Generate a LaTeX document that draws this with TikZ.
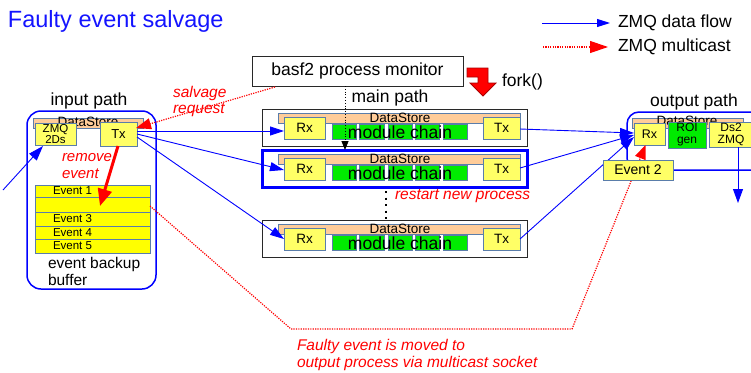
\documentclass[tikz,border=0pt]{standalone}
\usepackage{fontspec}
\setmainfont{Liberation Sans}
\usetikzlibrary{arrows.meta,calc}
\definecolor{ttlblue}{RGB}{20,20,255}
\definecolor{lyel}{RGB}{255,255,102}
\definecolor{eyel}{RGB}{255,255,0}
\definecolor{bord}{RGB}{90,125,170}
\definecolor{dsor}{RGB}{255,204,153}
\definecolor{grn}{RGB}{0,235,0}
\definecolor{frmgray}{RGB}{40,40,40}
\definecolor{dred}{RGB}{170,0,0}
\newcommand{\fsz}[1]{\fontsize{#1}{#1}\selectfont}
\newcommand{\fsl}[2]{\fontsize{#1}{#2}\selectfont}
\newcommand{\bx}[7]{\node[#1,minimum width={(#4)-(#2)},minimum height={(#5)-(#3)}] (#6) at ({((#2)+(#4))/2},{((#3)+(#5))/2}) {#7};}
\begin{document}
\begin{tikzpicture}[x=1pt,y=-1pt,
  shp/.style={inner sep=0pt,outer sep=0pt,anchor=center},
  ybox/.style={shp,draw=bord,fill=lyel,line width=0.8pt},
  ebox/.style={shp,draw=bord,fill=eyel,line width=0.8pt},
  gbox/.style={shp,draw=bord,fill=grn,line width=0.8pt},
  dsbar/.style={shp,draw=bord,fill=dsor,line width=0.8pt},
  txt/.style={inner sep=0pt,outer sep=0pt},
  flow/.style={blue,line width=0.9pt,-{Triangle[length=14pt,width=9pt]}},
  mcast/.style={red,line width=1.2pt,dash pattern=on 1.2pt off 1.2pt},
  redtip/.style={-{Triangle[length=15pt,width=11pt]}},
]
\useasboundingbox (0,0) rectangle (751,372);
\clip (0,0) rectangle (751,372);
% title
\node[txt,anchor=west,text=ttlblue,font={\fsz{23.5}}] (title) at (8,21) {Faulty event salvage};
% legend
\coordinate (lgb1) at (542,23); \coordinate (lgb2) at (610,23);
\coordinate (lgr1) at (543,47); \coordinate (lgr2) at (608,47);
\draw[flow,-{Triangle[length=13pt,width=8pt]}] (lgb1) -- (lgb2);
\draw[mcast,-{Triangle[length=18pt,width=12pt]}] (lgr1) -- (lgr2);
\node[txt,anchor=west,font={\fsz{17.5}}] (lgt1) at (618,23) {ZMQ data flow};
\node[txt,anchor=west,font={\fsz{17.5}}] (lgt2) at (618,47) {ZMQ multicast};
% monitor + fork
\bx{shp,draw=frmgray,fill=white,line width=1pt,font={\fsz{17.5}}}{252}{56}{463}{86}{basf}{basf2 process monitor}
\draw[draw=dred,fill=red,line width=0.8pt] (467,68) -- (488,68) -- (488,83) -- (496,83) -- (483,96) -- (470,83) -- (478,83) -- (478,77) -- (467,77) -- cycle;
\node[txt,anchor=west,font={\fsz{17.5}}] (fork) at (502,82) {fork()};
\node[txt,font={\fsz{17.5}}] (mpl) at (390,98) {main path};
% input path
\bx{shp,draw=blue,line width=1.5pt,rounded corners=14pt}{27}{111}{156}{289}{inbox}{}
\node[txt,font={\fsz{17.5}}] (inl) at (89,101) {input path};
\bx{dsbar}{33}{118}{143}{128}{dsin}{}
\node[txt,font={\fsz{13.5}}] (dsint) at (88,122) {DataStore};
\bx{ybox,align=center,font={\fsl{11.5}{11.5}}}{35}{123}{76}{145}{zmq}{ZMQ\\2Ds}
\bx{ybox,font={\fsz{13}}}{100}{122}{137}{146}{txin}{Tx}
\bx{ebox}{35}{185}{150}{197}{ev1}{}
\bx{ebox}{35}{197}{150}{212}{ev2}{}
\bx{ebox}{35}{212}{150}{226}{ev3}{}
\bx{ebox}{35}{226}{150}{239}{ev4}{}
\bx{ebox}{35}{239}{150}{253}{ev5}{}
\node[txt,anchor=west,font={\fsz{11.5}}] (ev1t) at (53,191) {Event 1};
\node[txt,anchor=west,font={\fsz{11.5}}] (ev3t) at (53,219) {Event 3};
\node[txt,anchor=west,font={\fsz{11.5}}] (ev4t) at (53,232.5) {Event 4};
\node[txt,anchor=west,font={\fsz{11.5}}] (ev5t) at (53,246) {Event 5};
\node[txt,anchor=west,align=left,text=red,font={\fsl{15}{17}\itshape}] (rmt) at (62,166) {remove\\event};
\node[txt,anchor=west,align=left,font={\fsl{15.5}{17}}] (ebb) at (48,271) {event backup\\buffer};
% main path rows
\foreach \o/\n/\lw/\col in {0/a/1pt/frmgray,41/b/3pt/blue,111/c/1pt/frmgray}{
  \bx{shp,fill=white,draw=\col,line width=\lw}{262}{109+\o}{527}{146+\o}{fr\n}{}
  \bx{dsbar}{278}{113+\o}{520}{123+\o}{ds\n}{}
  \node[txt,font={\fsz{13.5}}] (dst\n) at (400,118+\o) {DataStore};
  \bx{gbox}{332}{124+\o}{356}{139+\o}{ga\n}{}
  \bx{gbox}{359}{124+\o}{384}{139+\o}{gb\n}{}
  \bx{gbox}{388}{124+\o}{412}{139+\o}{gc\n}{}
  \bx{gbox}{415}{124+\o}{439}{139+\o}{gd\n}{}
  \bx{gbox}{443}{124+\o}{467}{139+\o}{ge\n}{}
  \bx{ybox,font={\fsz{13.5}}}{284}{117+\o}{325}{139+\o}{rx\n}{Rx}
  \bx{ybox,font={\fsz{13.5}}}{483}{117+\o}{520}{139+\o}{tx\n}{Tx}
  \node[txt,font={\fsz{17.5}}] (mc\n) at (400,132+\o) {module chain};
}
\node[txt,anchor=west,text=red,font={\fsz{15.5}\itshape}] (rnp) at (395,196) {restart new process};
\node[txt,anchor=west,align=left,text=red,font={\fsl{15.5}{16}\itshape}] (salv) at (173,101) {salvage\\request};
\node[txt,anchor=west,align=left,text=red,font={\fsl{15.5}{16.5}\itshape}] (fe) at (297,355) {Faulty event is moved to\\output process via multicast socket};
% output path
\bx{shp,draw=blue,line width=1.5pt,rounded corners=12pt}{627}{112}{790}{170}{outbox}{}
\node[txt,font={\fsz{17.5}}] (outl) at (694,102) {output path};
\bx{dsbar}{632}{118}{743}{128}{dsout}{}
\node[txt,font={\fsz{13.5}}] (dsoutt) at (687,121) {DataStore};
\bx{ybox,font={\fsz{12.5}}}{634}{123}{665}{145}{rxo}{Rx}
\bx{gbox,align=center,font={\fsl{12}{12}}}{668}{122}{706}{148}{roi}{ROI\\gen}
\bx{ybox,align=center,font={\fsl{12}{12}}}{709}{122}{753}{147}{dso}{Ds2\\ZMQ}
% blue data flow
\coordinate (inst) at (3,190);
\draw[flow,-{Triangle[length=15pt,width=10pt]}] (inst) -- ($(zmq.south west)+(8,1)$);
\draw[flow] ($(txin.east)+(0,-3)$) -- ($(rxa.west)+(0,3)$);
\draw[flow] (txin.east) -- ($(rxb.west)+(0,1)$);
\draw[flow] ($(txin.east)+(0,3)$) -- (rxc.west);
\draw[flow] ($(txa.east)+(0,1)$) -- ($(rxo.west)+(0,-1)$);
\draw[flow] ($(txb.east)+(0,-1)$) -- ($(rxo.west)+(0,1)$);
\draw[flow] (txc.east) -- ($(rxo.west)+(0,3)$);
\coordinate (outend) at (738,203);
\draw[flow,-{Triangle[length=14pt,width=10pt]}] ($(dso.south)+(7,0)$) -- (outend);
% process monitor arrows
\draw[black,line width=0.8pt,dotted,-{Triangle[length=9pt,width=7pt]}] ($(basf.south)+(-12.5,0)$) -- ($(basf.south |- frb.north)+(-12.5,0)$);
\draw[line width=2.2pt,dash pattern=on 2pt off 4.5pt] ($(frb.south)+(-8.5,4)$) -- ($(frc.north)+(-8.5,-1)$);
% red
\draw[mcast,redtip] ($(basf.south west)+(23,1)$) -- ($(txin.north east)+(-1,6)$);
\coordinate (rmend) at (100,206);
\draw[red,line width=3pt,-{Triangle[length=17pt,width=14pt]}] ($(txin.south)+(-0.5,0)$) -- (rmend);
\coordinate (mca) at (291,329);
\coordinate (mcb) at (572,329);
\draw[mcast,-{Triangle[length=14pt,width=11pt]}] ($(ev2.east)+(0,1.5)$) -- (mca) -- (mcb) -- ($(rxo.south)+(-4,0)$);
\bx{ybox,font={\fsz{14}}}{603}{160}{673}{180}{ev2o}{Event 2}
\end{tikzpicture}
\end{document}
